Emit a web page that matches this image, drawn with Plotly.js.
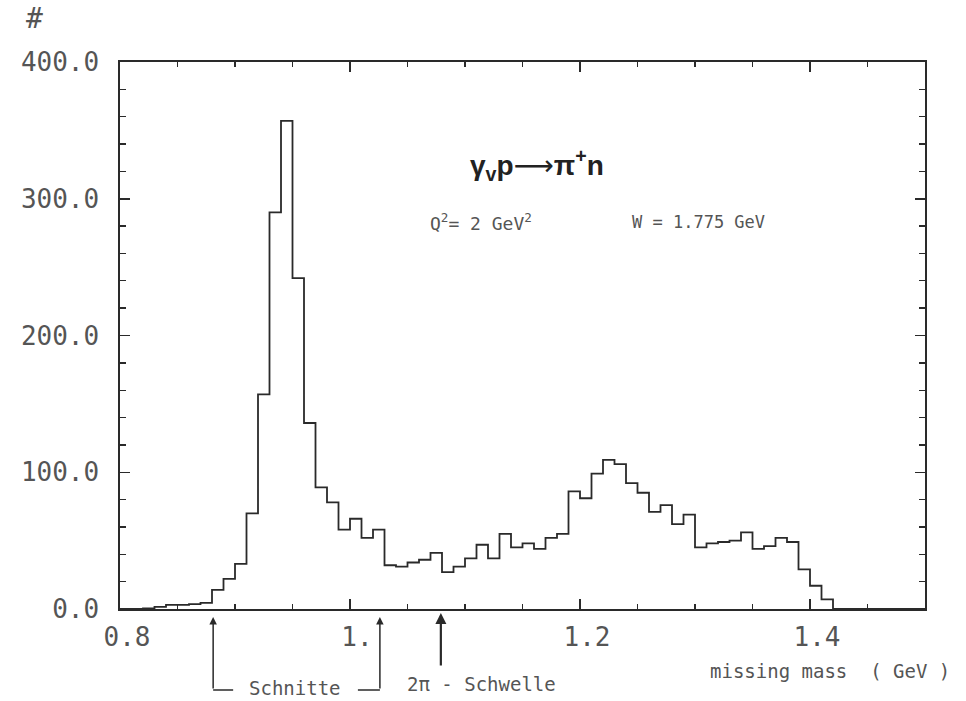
<!DOCTYPE html>
<html>
<head>
<meta charset="utf-8">
<script src="https://cdn.plot.ly/plotly-3.0.1.min.js"></script>
<style>html,body{margin:0;padding:0;background:#fff;}#chart{width:966px;height:701px;}</style>
</head>
<body>
<div id="chart"></div>
<script>
// Bin lower edges (GeV), bin width 0.01
const binLeft = [0.80,0.81,0.82,0.83,0.84,0.85,0.86,0.87,0.88,0.89,
  0.90,0.91,0.92,0.93,0.94,0.95,0.96,0.97,0.98,0.99,
  1.00,1.01,1.02,1.03,1.04,1.05,1.06,1.07,1.08,1.09,
  1.10,1.11,1.12,1.13,1.14,1.15,1.16,1.17,1.18,1.19,
  1.20,1.21,1.22,1.23,1.24,1.25,1.26,1.27,1.28,1.29,
  1.30,1.31,1.32,1.33,1.34,1.35,1.36,1.37,1.38,1.39,
  1.40,1.41,1.42,1.43,1.44,1.45,1.46,1.47,1.48,1.49];
const lastEdge = 1.50;
// Counts per bin
const counts = [0,0,0.5,1.5,3,3,3.5,4.5,14,22,
  33,70,157,290,357,242,136,89,78,58,
  66,52,58,32,31,34,36,41,27,31,
  37,47,37,55,45,48,44,52,55,86,
  81,99,109,106,92,85,71,76,62,69,
  45,48,49,50,56,44,46,52,49,29,
  17,7,0,0,0,0,0,0,0,0];

const xTickVals = [0.8, 1.0, 1.2, 1.4];
const xTickText = ["0.8", "1.", "1.2", "1.4"];
const yTickVals = [0, 100, 200, 300, 400];
const yTickText = ["0.0", "100.0", "200.0", "300.0", "400.0"];

// Marked positions (GeV): cuts and 2-pion threshold
const cutLow = 0.881, cutHigh = 1.026, threshold2pi = 1.079;

const xRange = [0.8, 1.5];
const yRange = [0, 400];

const xs = binLeft.concat([lastEdge]);
const ys = counts.concat([counts[counts.length - 1]]);

const ink = '#2a2a2a';
const txt = '#555';
const mono = 'DejaVu Sans Mono, monospace';

const toPaperX = v => (v - xRange[0]) / (xRange[1] - xRange[0]);

const trace = {
  type: 'scatter', mode: 'lines', x: xs, y: ys,
  line: {shape: 'hv', color: ink, width: 1.8},
  hoverinfo: 'skip', cliponaxis: false
};

const arrowCommon = {xref: 'x', yref: 'paper', text: '', showarrow: true,
  arrowhead: 2, arrowsize: 1, arrowwidth: 1.5, arrowcolor: ink, axref: 'pixel', ayref: 'pixel', ax: 0};

const annotations = [
  {xref: 'paper', yref: 'paper', x: -0.1056, y: 1.079, text: '#', showarrow: false,
   font: {family: mono, size: 28, color: txt}, xanchor: 'center', yanchor: 'middle'},
  {xref: 'paper', yref: 'paper', x: 0.518, y: 0.812, showarrow: false,
   text: '<b>γ<sub>v</sub>p</b><span style="font-family:DejaVu Sans">⟶</span><b>π<sup>+</sup>n</b>',
   font: {family: 'Liberation Sans, Arial, sans-serif', size: 28, color: '#222'}, xanchor: 'center', yanchor: 'middle'},
  {xref: 'paper', yref: 'paper', x: 0.3826, y: 0.7075, showarrow: false,
   text: 'Q<sup>2</sup>= 2 GeV<sup>2</sup>',
   font: {family: mono, size: 18, color: txt}, xanchor: 'left', yanchor: 'middle'},
  {xref: 'paper', yref: 'paper', x: 0.6335, y: 0.7075, showarrow: false,
   text: 'W = 1.775 GeV',
   font: {family: mono, size: 17, color: txt}, xanchor: 'left', yanchor: 'middle'},
  {xref: 'paper', yref: 'paper', x: 1.0335, y: -0.1133, showarrow: false,
   text: 'missing mass\u00a0\u00a0( GeV )',
   font: {family: mono, size: 19, color: txt}, xanchor: 'right', yanchor: 'middle'},
  {xref: 'paper', yref: 'paper', x: (295 - 120) / 805, y: (609 - 688) / 547, showarrow: false,
   text: 'Schnitte',
   font: {family: mono, size: 19, color: txt}, xanchor: 'center', yanchor: 'middle'},
  {xref: 'paper', yref: 'paper', x: (405 - 120) / 805, y: (609 - 684) / 547, showarrow: false,
   text: '2π - Schwelle',
   font: {family: mono, size: 19, color: txt}, xanchor: 'left', yanchor: 'middle'},
  Object.assign({}, arrowCommon, {x: cutLow, y: -8 / 547, ay: 73}),
  Object.assign({}, arrowCommon, {x: cutHigh, y: -8 / 547, ay: 73}),
  Object.assign({}, arrowCommon, {x: threshold2pi, y: -4 / 547, ay: 54, arrowwidth: 2.2})
];

const yBr = (609 - 690) / 547;
const shapes = [
  {type: 'line', xref: 'paper', yref: 'paper', x0: toPaperX(cutLow), x1: toPaperX(cutLow) + 20 / 805,
   y0: yBr, y1: yBr, line: {color: ink, width: 1.5}},
  {type: 'line', xref: 'paper', yref: 'paper', x0: toPaperX(cutHigh) - 22 / 805, x1: toPaperX(cutHigh),
   y0: yBr, y1: yBr, line: {color: ink, width: 1.5}}
];

const layout = {
  width: 966, height: 701,
  margin: {l: 120, r: 41, t: 62, b: 92, pad: 0},
  paper_bgcolor: '#fff', plot_bgcolor: '#fff',
  showlegend: false,
  xaxis: {
    range: xRange, showgrid: false, zeroline: false,
    showline: true, linecolor: ink, linewidth: 1.6, mirror: 'allticks',
    tickmode: 'array', tickvals: xTickVals, ticktext: xTickText,
    ticks: 'inside', ticklen: 10, tickwidth: 1.5, tickcolor: ink,
    minor: {tick0: 0.8, dtick: 0.05, ticks: 'inside', ticklen: 5, tickwidth: 1.3, tickcolor: ink},
    tickfont: {family: mono, size: 26, color: txt},
    ticklabelshift: 7, ticklabelstandoff: 4
  },
  yaxis: {
    range: yRange, showgrid: false, zeroline: false,
    showline: true, linecolor: ink, linewidth: 1.6, mirror: 'allticks',
    tickmode: 'array', tickvals: yTickVals, ticktext: yTickText,
    ticks: 'inside', ticklen: 10, tickwidth: 1.5, tickcolor: ink,
    minor: {tick0: 0, dtick: 20, ticks: 'inside', ticklen: 6, tickwidth: 1.3, tickcolor: ink},
    tickfont: {family: mono, size: 26, color: txt},
    ticklabelstandoff: 14
  },
  annotations: annotations,
  shapes: shapes
};

Plotly.newPlot('chart', [trace], layout, {staticPlot: true, displayModeBar: false});
</script>
</body>
</html>
